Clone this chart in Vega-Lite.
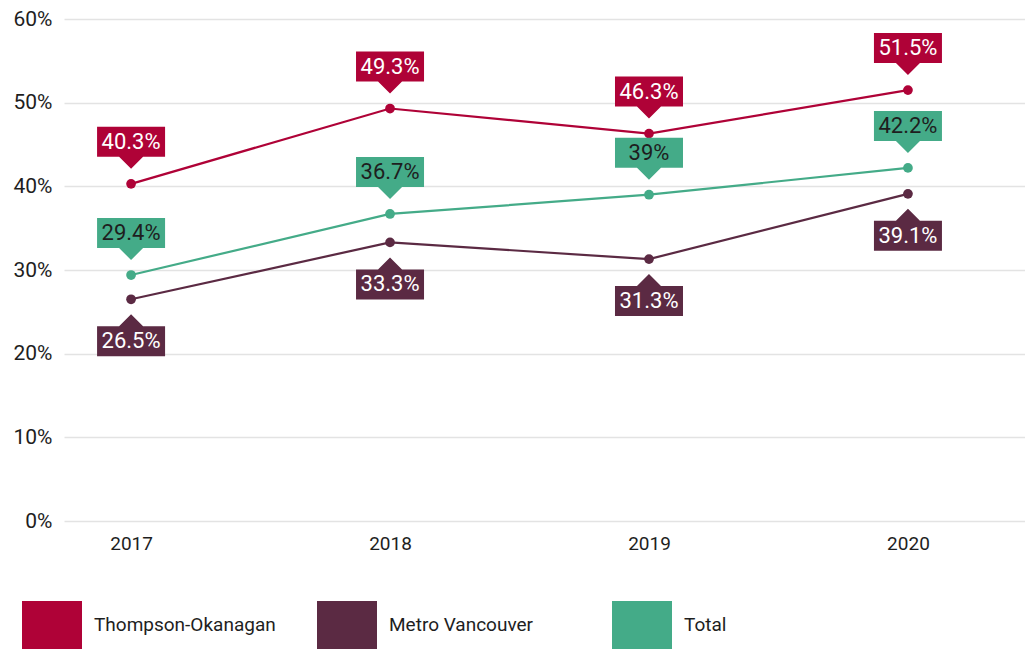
{
  "$schema": "https://vega.github.io/schema/vega-lite/v6.json",
  "width": 961,
  "height": 502,
  "autosize": {"type": "none"},
  "padding": {"left": 64, "top": 19, "right": 0, "bottom": 128},
  "background": "white",
  "config": {
    "view": {"stroke": null},
    "font": "Roboto",
    "axis": {"labelFont": "Roboto", "labelColor": "#1e1e1e", "labelFontWeight": "normal"},
    "legend": {"labelFont": "Roboto", "labelColor": "#1e1e1e", "labelFontWeight": "normal"}
  },
  "data": {
    "values": [
      {"year": 2017, "series": "Thompson-Okanagan", "value": 0.403},
      {"year": 2018, "series": "Thompson-Okanagan", "value": 0.493},
      {"year": 2019, "series": "Thompson-Okanagan", "value": 0.463},
      {"year": 2020, "series": "Thompson-Okanagan", "value": 0.515},
      {"year": 2017, "series": "Metro Vancouver", "value": 0.265},
      {"year": 2018, "series": "Metro Vancouver", "value": 0.333},
      {"year": 2019, "series": "Metro Vancouver", "value": 0.313},
      {"year": 2020, "series": "Metro Vancouver", "value": 0.391},
      {"year": 2017, "series": "Total", "value": 0.294},
      {"year": 2018, "series": "Total", "value": 0.367},
      {"year": 2019, "series": "Total", "value": 0.39},
      {"year": 2020, "series": "Total", "value": 0.422}
    ]
  },
  "encoding": {
    "x": {
      "field": "year",
      "type": "quantitative",
      "scale": {"domain": [2016.741, 2020.452], "nice": false, "zero": false},
      "axis": {
        "values": [2017, 2018, 2019, 2020],
        "format": "d",
        "title": null,
        "grid": false,
        "domain": false,
        "ticks": false,
        "labelFontSize": 19,
        "labelPadding": 13,
        "labelBaseline": "top"
      }
    },
    "y": {
      "field": "value",
      "type": "quantitative",
      "scale": {"domain": [0, 0.6], "nice": false},
      "axis": {
        "values": [0, 0.1, 0.2, 0.3, 0.4, 0.5, 0.6],
        "format": ".0%",
        "title": null,
        "domain": false,
        "ticks": false,
        "grid": true,
        "gridColor": "#e3e3e3",
        "gridWidth": 1.5,
        "labelFontSize": 21,
        "labelPadding": 12
      }
    },
    "color": {
      "field": "series",
      "type": "nominal",
      "scale": {
        "domain": ["Thompson-Okanagan", "Metro Vancouver", "Total"],
        "range": ["#AF0237", "#5B2A43", "#44AB88"]
      },
      "legend": {
        "title": null,
        "orient": "none",
        "direction": "horizontal",
        "columns": 3,
        "gridAlign": "all",
        "legendX": -36,
        "legendY": 582,
        "padding": 0,
        "symbolType": "M-1.25,-1L1.25,-1L1.25,1L-1.25,1Z",
        "symbolSize": 2304,
        "symbolStrokeWidth": 0,
        "symbolOpacity": 1,
        "labelFontSize": 19,
        "labelOffset": 18,
        "columnPadding": 41,
        "labelLimit": 300
      }
    }
  },
  "layer": [
    {"mark": {"type": "line", "strokeWidth": 2.2}},
    {"mark": {"type": "point", "filled": true, "opacity": 1, "size": 95, "shape": "circle"}},
    {
      "transform": [{"filter": "datum.series !== 'Metro Vancouver'"}],
      "mark": {
        "type": "point",
        "filled": true,
        "opacity": 1,
        "size": 4,
        "shape": "M0,-15L-12,-27L-34,-27L-34,-57L34,-57L34,-27L12,-27Z"
      }
    },
    {
      "transform": [{"filter": "datum.series === 'Metro Vancouver'"}],
      "mark": {
        "type": "point",
        "filled": true,
        "opacity": 1,
        "size": 4,
        "shape": "M0,15L-12,27L-34,27L-34,57L34,57L34,27L12,27Z"
      }
    },
    {
      "transform": [{"filter": "datum.series !== 'Metro Vancouver'"}],
      "mark": {"type": "text", "fontSize": 22, "baseline": "middle", "align": "center", "dy": -42},
      "encoding": {
        "text": {"field": "value", "type": "quantitative", "format": ".1~%"},
        "color": {
          "condition": {"test": "datum.series === 'Total'", "value": "#1e1e1e"},
          "value": "#ffffff"
        }
      }
    },
    {
      "transform": [{"filter": "datum.series === 'Metro Vancouver'"}],
      "mark": {"type": "text", "fontSize": 22, "baseline": "middle", "align": "center", "dy": 42},
      "encoding": {
        "text": {"field": "value", "type": "quantitative", "format": ".1~%"},
        "color": {"value": "#ffffff"}
      }
    }
  ]
}
